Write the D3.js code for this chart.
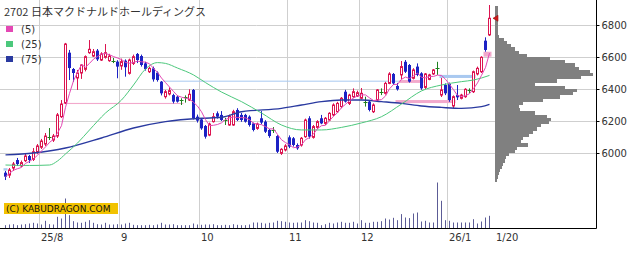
<!DOCTYPE html>
<html>
<head>
<meta charset="utf-8">
<script src="https://cdn.jsdelivr.net/npm/d3@7"></script>
<style>
body { margin: 0; background: #fff; }
svg { display: block; }
text { font-family: "DejaVu Sans", sans-serif; fill: #333; }
</style>
</head>
<body>
<script>
// chart data
var title = "2702 日本マクドナルドホールディングス";
var legendNames = ["(5)", "(25)", "(75)"];
var priceTicks = [6000, 6200, 6400, 6600, 6800];
var monthTicks = [9, 29, 49, 71, 89, 111];
var monthLabels = ["25/8", "9", "10", "11", "12", "26/1"];
var lastLabel = "1/20";

var open = [5877,5862,5906,5956,5919,5952,5981,5960,6006,6036,
  6056,6098,6081,6106,6227,6313,6627,6525,6469,6500,
  6523,6627,6606,6640,6581,6598,6577,6577,6571,6544,
  6577,6498,6560,6619,6606,6560,6508,6529,6502,6446,
  6352,6369,6362,6352,6331,6348,6331,6394,6227,6210,
  6169,6112,6196,6248,6238,6206,6175,6175,6269,6238,
  6238,6227,6185,6154,6217,6196,6144,6144,6106,5998,
  6019,6098,6092,6050,6050,6102,6217,6098,6160,6217,
  6185,6206,6238,6258,6290,6383,6310,6352,6356,6342,
  6321,6321,6258,6331,6383,6373,6435,6494,6419,6488,
  6570,6550,6467,6540,6498,6410,6460,6494,6529,6362,
  6425,6431,6294,6362,6342,6352,6394,6383,6494,6508,
  6702,6738];
var high = [5888,5906,5944,5969,5953,5994,5988,6031,6056,6088,
  6125,6156,6119,6250,6331,6688,6644,6531,6519,6556,
  6610,6706,6650,6650,6630,6681,6620,6594,6580,6590,
  6585,6590,6615,6625,6615,6570,6540,6540,6510,6450,
  6394,6410,6370,6360,6342,6360,6398,6400,6240,6215,
  6175,6190,6250,6260,6262,6220,6240,6270,6280,6250,
  6245,6235,6190,6190,6262,6205,6150,6162,6112,6030,
  6055,6110,6100,6060,6100,6215,6230,6175,6205,6238,
  6225,6255,6310,6320,6350,6395,6370,6404,6390,6406,
  6352,6330,6310,6400,6404,6445,6505,6500,6438,6575,
  6581,6556,6530,6560,6505,6500,6495,6525,6570,6469,
  6435,6440,6360,6425,6370,6405,6404,6515,6540,6605,
  6723,6925];
var low = [5831,5844,5888,5919,5912,5944,5938,5950,5994,6025,
  6044,6081,6069,6094,6219,6306,6456,6444,6394,6463,
  6510,6620,6600,6575,6575,6590,6570,6562,6467,6520,
  6477,6490,6550,6562,6540,6515,6500,6446,6446,6360,
  6340,6360,6310,6315,6300,6315,6325,6210,6190,6145,
  6090,6105,6190,6215,6200,6175,6170,6170,6200,6195,
  6190,6165,6135,6145,6180,6125,6095,6125,6000,5988,
  6010,6030,6040,6020,6040,6095,6090,6090,6150,6180,
  6175,6200,6230,6250,6280,6315,6300,6345,6350,6335,
  6290,6260,6250,6325,6362,6365,6430,6425,6390,6460,
  6500,6440,6460,6480,6395,6400,6455,6488,6488,6350,
  6362,6320,6279,6331,6335,6345,6373,6375,6485,6500,
  6633,6731];
var close = [5852,5894,5931,5931,5940,5981,5956,6008,6044,6075,
  6106,6098,6106,6238,6306,6681,6531,6500,6500,6550,
  6602,6648,6633,6585,6619,6627,6606,6577,6540,6571,
  6536,6581,6602,6581,6550,6525,6529,6460,6456,6373,
  6383,6390,6321,6321,6331,6348,6367,6217,6202,6154,
  6102,6181,6227,6227,6206,6206,6231,6258,6206,6206,
  6196,6175,6144,6181,6190,6133,6106,6144,6008,6023,
  6044,6040,6050,6029,6092,6206,6102,6165,6196,6185,
  6217,6248,6300,6310,6342,6321,6362,6383,6377,6373,
  6321,6269,6300,6394,6383,6435,6494,6435,6398,6540,
  6508,6446,6519,6488,6404,6494,6488,6519,6529,6394,
  6373,6331,6352,6348,6362,6398,6394,6508,6529,6598,
  6644,6842];
var volume = [66,80,86,66,80,86,100,114,100,80,
  154,86,80,234,200,600,266,146,120,114,
  134,166,114,86,80,114,80,80,86,80,
  100,114,74,66,66,66,74,66,80,114,
  80,80,86,66,66,66,66,100,80,74,
  80,80,86,66,66,74,66,86,74,66,
  66,80,120,120,114,100,114,120,154,146,
  134,120,114,120,120,166,146,120,114,66,
  86,114,100,120,134,114,114,134,100,166,
  114,114,134,134,146,200,180,214,166,288,
  220,208,300,320,140,154,120,120,920,554,
  166,154,120,120,120,120,120,186,100,140,
  220,254];

// 25 and 75 day averages, sampled along the lines
var ma25Day = [0,6,11,13,15,18,21,25,29,32,35,38,40,43,47,50,54,59,64,69,74,79,84,89,94,99,104,109,114,117,121];
var ma25Val = [5925,5922,5925,5950,5994,6062,6144,6250,6331,6425,6525,6565,6560,6531,6488,6440,6381,6321,6250,6175,6144,6144,6160,6188,6227,6306,6388,6425,6446,6456,6485];
var ma75Day = [0,7,15,24,32,40,49,54,59,69,74,79,84,89,94,99,104,109,114,119,121];
var ma75Val = [5988,6000,6031,6094,6156,6196,6217,6223,6258,6279,6300,6321,6331,6331,6321,6310,6294,6285,6279,6290,6304];

// price-by-volume profile, 20 yen bins from 6920 downwards
var profileTop = 6920;
var profileStep = 20;
var profileVol = [3,3,3,3,3,3,3,3,3,4,
  9,12,16,20,24,32,55,70,80,84,
  95,98,86,62,40,70,82,78,65,48,
  28,24,25,40,52,56,54,46,42,38,
  34,28,26,33,22,20,14,11,10,8,
  7,5,4,3,2];

// open price gaps (window)
var gapStart = [0, 15, 40, 98, 99, 109, 120];
var gapEnd   = [0, 44, 99, 112, 104, 117, 121];
var gapLow   = [5890, 6306, 6446, 6312, 6438, 6469, 6602];
var gapHigh  = [5905, 6313, 6452, 6331, 6456, 6488, 6633];
var gapUp    = [false, true, false, true, true, false, true];

var width = 641, height = 255;
var plotRight = 596.5, baseY = 228.5;

var upColor = "#dc1450", downColor = "#1c22c4", evenColor = "#1e7f1e";
var maColors = ["#e448b4", "#4cc87c", "#2a3aa0"];

var n = close.length;
var days = d3.range(n);

var x = d3.scaleLinear().domain([0, n - 1]).range([5.5, 489.5]);
var y = d3.scaleLinear().domain([6000, 6800]).range([153, 25]);
var yVol = d3.scaleLinear().domain([0, 1000]).range([baseY, baseY - 50]);
var wProf = d3.scaleLinear().domain([0, 100]).range([0, 100]);

// 5 day average from the closes
var ma5 = days.map(function(i) {
    return d3.mean(close.slice(Math.max(0, i - 4), i + 1));
});

var svg = d3.select("body")
    .append("svg")
        .attr("width", width)
        .attr("height", height);

svg.append("rect").attr("width", width).attr("height", height).attr("fill", "#fff");

// grid
svg.append("g").selectAll("line")
    .data(priceTicks)
  .enter().append("line")
    .attr("x1", 0).attr("x2", plotRight)
    .attr("y1", function(d) { return Math.round(y(d)) + 0.5; })
    .attr("y2", function(d) { return Math.round(y(d)) + 0.5; })
    .attr("stroke", "#cfcfcf");

svg.append("g").selectAll("line")
    .data(monthTicks)
  .enter().append("line")
    .attr("x1", function(d) { return x(d) - 2; })
    .attr("x2", function(d) { return x(d) - 2; })
    .attr("y1", 0).attr("y2", baseY)
    .attr("stroke", "#cfcfcf");

// gaps
svg.append("g").selectAll("rect")
    .data(gapStart)
  .enter().append("rect")
    .attr("x", function(d) { return x(d) - 2; })
    .attr("width", function(d, i) { return x(gapEnd[i]) - x(d) + 4; })
    .attr("y", function(d, i) { return y(gapHigh[i]); })
    .attr("height", function(d, i) { return Math.max(1, y(gapLow[i]) - y(gapHigh[i])); })
    .attr("fill", function(d, i) { return gapUp[i] ? "#f2a9cc" : "#a9c9f0"; });

// volume
svg.append("g").selectAll("line")
    .data(days)
  .enter().append("line")
    .attr("x1", function(i) { return x(i); })
    .attr("x2", function(i) { return x(i); })
    .attr("y1", baseY)
    .attr("y2", function(i) { return yVol(volume[i]); })
    .attr("stroke", "#5c5c96");

// candles
var candle = svg.append("g").selectAll("g")
    .data(days)
  .enter().append("g");

function col(i) {
    return close[i] > open[i] ? upColor : (close[i] < open[i] ? downColor : evenColor);
}

candle.append("line")
    .attr("x1", function(i) { return x(i); })
    .attr("x2", function(i) { return x(i); })
    .attr("y1", function(i) { return y(high[i]); })
    .attr("y2", function(i) { return y(low[i]); })
    .attr("stroke", col);

candle.filter(function(i) { return close[i] > open[i]; })
  .append("rect")
    .attr("x", function(i) { return x(i) - 1; })
    .attr("width", 2)
    .attr("y", function(i) { return y(close[i]); })
    .attr("height", function(i) { return Math.max(1, y(open[i]) - y(close[i])); })
    .attr("fill", "#fff")
    .attr("stroke", upColor);

candle.filter(function(i) { return close[i] < open[i]; })
  .append("rect")
    .attr("x", function(i) { return x(i) - 1.5; })
    .attr("width", 3)
    .attr("y", function(i) { return y(open[i]); })
    .attr("height", function(i) { return Math.max(1, y(close[i]) - y(open[i])); })
    .attr("fill", downColor);

candle.filter(function(i) { return close[i] == open[i]; })
  .append("line")
    .attr("x1", function(i) { return x(i) - 2; })
    .attr("x2", function(i) { return x(i) + 2; })
    .attr("y1", function(i) { return Math.round(y(close[i])) + 0.5; })
    .attr("y2", function(i) { return Math.round(y(close[i])) + 0.5; })
    .attr("stroke", evenColor);

// moving averages
var line = d3.line().curve(d3.curveMonotoneX);

svg.append("path")
    .attr("d", line(ma75Day.map(function(d, i) { return [x(d), y(ma75Val[i])]; })))
    .attr("fill", "none").attr("stroke", maColors[2]).attr("stroke-width", 1.4);
svg.append("path")
    .attr("d", line(ma25Day.map(function(d, i) { return [x(d), y(ma25Val[i])]; })))
    .attr("fill", "none").attr("stroke", maColors[1]).attr("stroke-width", 1);
svg.append("path")
    .attr("d", d3.line()(days.map(function(i) { return [x(i), y(ma5[i])]; })))
    .attr("fill", "none").attr("stroke", maColors[0]).attr("stroke-width", 1);

// volume profile
function binTop(i) { return Math.round(y(profileTop - i * profileStep)); }

svg.append("g").selectAll("rect")
    .data(profileVol)
  .enter().append("rect")
    .attr("x", Math.round(x(n - 1) + 5.5))
    .attr("y", function(d, i) { return binTop(i); })
    .attr("width", function(d) { return Math.round(wProf(d)); })
    .attr("height", function(d, i) { return binTop(i + 1) - binTop(i); })
    .attr("fill", "#808080")
    .attr("shape-rendering", "crispEdges");

// last price marker
var lx = x(n - 1) + 3.5, ly = y(close[n - 1]);
svg.append("path")
    .attr("d", "M" + lx + "," + ly + "L" + (lx + 5) + "," + (ly - 3) + "L" + (lx + 5) + "," + (ly + 3) + "Z")
    .attr("fill", "#d01818").attr("stroke", "#901010").attr("stroke-width", 0.6);

// axes
svg.append("line").attr("x1", plotRight).attr("x2", plotRight).attr("y1", 0).attr("y2", baseY)
    .attr("stroke", "#000");
svg.append("line").attr("x1", 0).attr("x2", plotRight).attr("y1", baseY).attr("y2", baseY)
    .attr("stroke", "#000");

var yAxis = d3.axisRight(y)
    .tickValues(priceTicks)
    .tickSize(3)
    .tickPadding(2)
    .tickFormat(d3.format("d"));

var ga = svg.append("g")
    .attr("transform", "translate(" + plotRight + ",0)")
    .call(yAxis);
ga.select(".domain").remove();
ga.selectAll("line").attr("stroke", "#000");
ga.selectAll("text").attr("font-size", 10).attr("fill", "#333").attr("font-family", "DejaVu Sans");

svg.append("g").selectAll("text")
    .data(monthTicks)
  .enter().append("text")
    .attr("x", function(d) { return x(d) - 0.5; })
    .attr("y", 241)
    .attr("font-size", 10)
    .text(function(d, i) { return monthLabels[i]; });

svg.append("text")
    .attr("x", x(n - 1) + 6.5)
    .attr("y", 241)
    .attr("font-size", 10)
    .text(lastLabel);

// watermark
svg.append("rect").attr("x", 4).attr("y", 203).attr("width", 114).attr("height", 11).attr("fill", "#f2c200");
svg.append("text").attr("x", 6).attr("y", 212).attr("font-size", 9).style("fill", "#111")
    .text("(C) KABUDRAGON.COM");

// title and legend
svg.append("text")
    .attr("x", 4).attr("y", 16)
    .attr("font-size", 11)
    .style("font-family", "'Noto Sans CJK JP', sans-serif")
    .text(title);

var leg = svg.append("g").selectAll("g")
    .data(legendNames)
  .enter().append("g")
    .attr("transform", function(d, i) { return "translate(6," + (26 + i * 15) + ")"; });
leg.append("rect").attr("width", 7).attr("height", 6)
    .attr("fill", function(d, i) { return maColors[i]; });
leg.append("text").attr("x", 15).attr("y", 6.5).attr("font-size", 10)
    .text(function(d) { return d; });
</script>
</body>
</html>
